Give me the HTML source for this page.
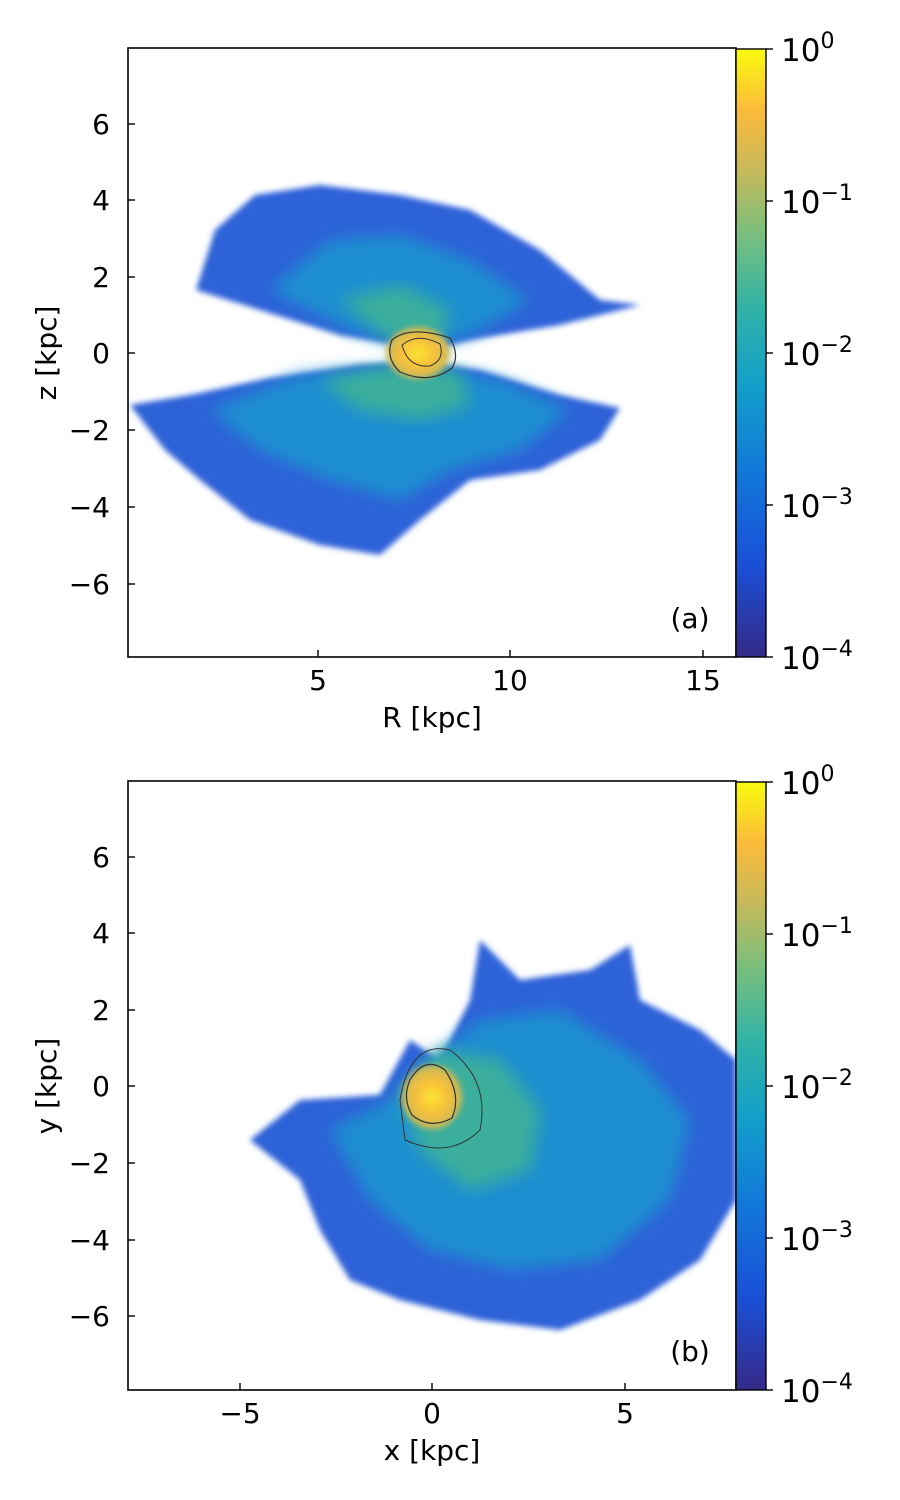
<!DOCTYPE html>
<html><head><style>body{margin:0;background:#fff}svg{display:block}text{font-family:"DejaVu Sans","Liberation Sans",sans-serif;fill:#000}</style></head>
<body>
<svg width="900" height="1500" viewBox="0 0 900 1500" xmlns="http://www.w3.org/2000/svg">
<defs>
<linearGradient id="cb" x1="0" y1="1" x2="0" y2="0">
<stop offset="0" stop-color="#352a87"/><stop offset="0.15" stop-color="#1a4fd6"/><stop offset="0.3" stop-color="#1177d9"/><stop offset="0.45" stop-color="#12a0c9"/><stop offset="0.58" stop-color="#33b3a4"/><stop offset="0.7" stop-color="#7cbf7b"/><stop offset="0.8" stop-color="#c6b95a"/><stop offset="0.9" stop-color="#fbbb3a"/><stop offset="1" stop-color="#f9fb0e"/>
</linearGradient>
<radialGradient id="core"><stop offset="0" stop-color="#f8e830"/><stop offset="0.5" stop-color="#f9c03a"/><stop offset="1" stop-color="#c6b95a"/></radialGradient>
<filter id="bl"><feGaussianBlur stdDeviation="3"/></filter>
<filter id="bl2"><feGaussianBlur stdDeviation="8"/></filter>
<clipPath id="c1"><rect x="128" y="48" width="608" height="609"/></clipPath>
<clipPath id="c2"><rect x="128" y="781" width="608" height="609"/></clipPath>
</defs>
<g clip-path="url(#c1)">
<polygon filter="url(#bl)" fill="#2d62d8" points="196,290 215,230 255,195 320,185 400,195 470,210 540,250 600,300 640,305 560,325 470,340 430,350 400,345 340,335 260,310"/>
<polygon filter="url(#bl)" fill="#2d62d8" points="130,405 190,395 270,378 360,365 420,362 480,370 560,395 620,408 600,440 540,470 470,480 420,520 380,555 320,545 250,520 200,480 165,450"/>
<polygon filter="url(#bl2)" fill="#1e8fd0" points="270,290 330,240 400,235 470,260 530,300 470,335 420,348 350,330"/>
<polygon filter="url(#bl2)" fill="#1e8fd0" points="210,410 300,375 420,365 500,380 570,410 520,450 450,470 400,500 330,480 260,450"/>
<polygon filter="url(#bl2)" fill="#3aae9c" points="340,300 400,285 450,310 440,345 390,340"/>
<polygon filter="url(#bl2)" fill="#3aae9c" points="320,380 390,366 460,372 470,405 420,420 360,410"/>
<ellipse cx="418" cy="353" rx="32" ry="26" fill="url(#core)" filter="url(#bl)"/>
<path d="M392,340 Q410,325 450,338 Q460,355 452,368 Q430,385 400,372 Q385,358 392,340Z" fill="none" stroke="#333" stroke-width="1.2"/>
<path d="M402,345 Q418,332 440,344 Q445,360 430,366 Q408,368 402,345Z" fill="none" stroke="#333" stroke-width="1"/>
</g>
<rect x="128" y="48" width="608" height="609" fill="none" stroke="#000" stroke-width="1.6"/>
<rect x="736" y="49" width="30" height="608" fill="url(#cb)" stroke="#000" stroke-width="1.4"/>
<g stroke="#000" stroke-width="1.4">
<line x1="318" y1="657" x2="318" y2="650"/><line x1="510" y1="657" x2="510" y2="650"/><line x1="703" y1="657" x2="703" y2="650"/>
<line x1="128" y1="124" x2="135" y2="124"/><line x1="128" y1="200" x2="135" y2="200"/><line x1="128" y1="277" x2="135" y2="277"/><line x1="128" y1="353" x2="135" y2="353"/><line x1="128" y1="430" x2="135" y2="430"/><line x1="128" y1="507" x2="135" y2="507"/><line x1="128" y1="584" x2="135" y2="584"/>
<line x1="766" y1="49" x2="773" y2="49"/><line x1="766" y1="201" x2="773" y2="201"/><line x1="766" y1="353" x2="773" y2="353"/><line x1="766" y1="505" x2="773" y2="505"/><line x1="766" y1="657" x2="773" y2="657"/>
</g>
<g font-size="28" text-anchor="middle">
<text x="318" y="690">5</text><text x="510" y="690">10</text><text x="703" y="690">15</text>
<text x="432" y="727">R [kpc]</text>
</g>
<g font-size="28" text-anchor="end">
<text x="110" y="134">6</text><text x="110" y="210">4</text><text x="110" y="287">2</text><text x="110" y="363">0</text><text x="110" y="440">−2</text><text x="110" y="517">−4</text><text x="110" y="594">−6</text>
</g>
<text font-size="28" transform="translate(56,353) rotate(-90)" text-anchor="middle">z [kpc]</text>
<text x="690" y="628" font-size="28" text-anchor="middle">(a)</text>
<g font-size="31">
<text x="781" y="61">10<tspan font-size="22" dy="-13">0</tspan></text>
<text x="781" y="213">10<tspan font-size="22" dy="-13">−1</tspan></text>
<text x="781" y="365">10<tspan font-size="22" dy="-13">−2</tspan></text>
<text x="781" y="517">10<tspan font-size="22" dy="-13">−3</tspan></text>
<text x="781" y="669">10<tspan font-size="22" dy="-13">−4</tspan></text>
</g>
<g clip-path="url(#c2)">
<polygon filter="url(#bl)" fill="#2d62d8" points="250,1140 300,1100 380,1095 410,1040 440,1060 470,1000 480,940 520,980 590,970 630,945 640,1000 700,1030 736,1060 736,1200 700,1260 640,1300 560,1330 480,1320 400,1300 350,1280 320,1230 300,1180"/>
<polygon filter="url(#bl2)" fill="#1e8fd0" points="330,1130 390,1100 430,1060 480,1020 560,1010 640,1060 690,1120 670,1200 600,1260 510,1270 430,1250 370,1200"/>
<polygon filter="url(#bl2)" fill="#3aae9c" points="400,1090 440,1050 500,1060 540,1110 530,1170 470,1190 420,1150"/>
<ellipse cx="432" cy="1097" rx="30" ry="32" fill="url(#core)" filter="url(#bl)"/>
<path d="M410,1080 Q425,1055 445,1070 Q462,1095 452,1118 Q430,1130 412,1115 Q402,1098 410,1080Z" fill="none" stroke="#333" stroke-width="1.2"/>
<path d="M400,1100 Q410,1040 450,1050 Q490,1080 480,1130 Q450,1160 405,1140Z" fill="none" stroke="#333" stroke-width="1"/>
</g>
<rect x="128" y="781" width="608" height="609" fill="none" stroke="#000" stroke-width="1.6"/>
<rect x="736" y="782" width="30" height="608" fill="url(#cb)" stroke="#000" stroke-width="1.4"/>
<g stroke="#000" stroke-width="1.4">
<line x1="240" y1="1390" x2="240" y2="1383"/><line x1="432" y1="1390" x2="432" y2="1383"/><line x1="625" y1="1390" x2="625" y2="1383"/>
<line x1="128" y1="857" x2="135" y2="857"/><line x1="128" y1="933" x2="135" y2="933"/><line x1="128" y1="1010" x2="135" y2="1010"/><line x1="128" y1="1086" x2="135" y2="1086"/><line x1="128" y1="1163" x2="135" y2="1163"/><line x1="128" y1="1240" x2="135" y2="1240"/><line x1="128" y1="1316" x2="135" y2="1316"/>
<line x1="766" y1="782" x2="773" y2="782"/><line x1="766" y1="934" x2="773" y2="934"/><line x1="766" y1="1086" x2="773" y2="1086"/><line x1="766" y1="1238" x2="773" y2="1238"/><line x1="766" y1="1390" x2="773" y2="1390"/>
</g>
<g font-size="28" text-anchor="middle">
<text x="240" y="1423">−5</text><text x="432" y="1423">0</text><text x="625" y="1423">5</text>
<text x="432" y="1460">x [kpc]</text>
</g>
<g font-size="28" text-anchor="end">
<text x="110" y="867">6</text><text x="110" y="943">4</text><text x="110" y="1020">2</text><text x="110" y="1096">0</text><text x="110" y="1173">−2</text><text x="110" y="1250">−4</text><text x="110" y="1326">−6</text>
</g>
<text font-size="28" transform="translate(56,1086) rotate(-90)" text-anchor="middle">y [kpc]</text>
<text x="690" y="1361" font-size="28" text-anchor="middle">(b)</text>
<g font-size="31">
<text x="781" y="794">10<tspan font-size="22" dy="-13">0</tspan></text>
<text x="781" y="946">10<tspan font-size="22" dy="-13">−1</tspan></text>
<text x="781" y="1098">10<tspan font-size="22" dy="-13">−2</tspan></text>
<text x="781" y="1250">10<tspan font-size="22" dy="-13">−3</tspan></text>
<text x="781" y="1402">10<tspan font-size="22" dy="-13">−4</tspan></text>
</g>
</svg>
</body></html>
